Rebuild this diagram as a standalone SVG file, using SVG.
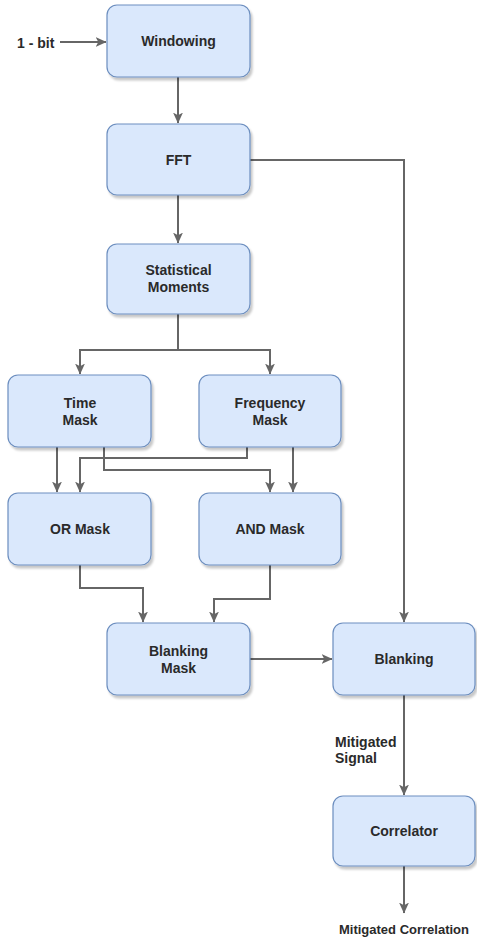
<svg xmlns="http://www.w3.org/2000/svg" width="477" height="937" viewBox="0 0 477 937">
<style>
.box{fill:#dae8fc;stroke:#6c8ebf;stroke-width:1.2;filter:url(#sh)}
.t{font-family:"Liberation Sans",Arial,sans-serif;font-size:14px;font-weight:bold;fill:#2a2a2a;text-anchor:middle}
.tl{font-family:"Liberation Sans",Arial,sans-serif;font-size:14px;font-weight:bold;fill:#2a2a2a}
.c{fill:none;stroke:#666;stroke-width:2;marker-end:url(#ar)}
</style>
<defs>
<filter id="sh" x="-10%" y="-10%" width="130%" height="140%">
<feDropShadow dx="2" dy="3" stdDeviation="1.2" flood-color="#000" flood-opacity="0.22"/>
</filter>
<marker id="ar" viewBox="0 0 10 9" refX="9.5" refY="4.5" markerWidth="11" markerHeight="10" markerUnits="userSpaceOnUse" orient="auto">
<path d="M0,0 L10,4.5 L0,9 L2.5,4.5 Z" fill="#666"/>
</marker>
</defs>
<g id="connectors">
<path class="c" d="M60,42 H106"/>
<path class="c" d="M178,77 V123"/>
<path class="c" d="M178,195 V243"/>
<path class="c" d="M178,314 V350 H80 V374"/>
<path class="c" d="M178,350 H270 V374"/>
<path class="c" d="M57,447 V492"/>
<path class="c" d="M104,447 V470 H270 V492"/>
<path class="c" d="M247,447 V458 H80 V492"/>
<path class="c" d="M293,447 V492"/>
<path class="c" d="M80,565 V588 H143 V622"/>
<path class="c" d="M270,565 V599 H214 V622"/>
<path class="c" d="M250,659 H332"/>
<path class="c" d="M250,160 H404 V622"/>
<path class="c" d="M404,695 V795"/>
<path class="c" d="M404,866 V913"/>
</g>
<g id="in-label"><text class="tl" x="17" y="48">1 - bit</text></g>
<g id="windowing"><rect class="box" x="107" y="5" width="143" height="72" rx="10"/><text class="t" x="178.5" y="46">Windowing</text></g>
<g id="fft"><rect class="box" x="107" y="124" width="143" height="71" rx="10"/><text class="t" x="178.5" y="165">FFT</text></g>
<g id="stat"><rect class="box" x="107" y="244" width="143" height="70" rx="10"/><text class="t" x="178.5" y="275">Statistical</text><text class="t" x="178.5" y="292">Moments</text></g>
<g id="time"><rect class="box" x="8" y="375" width="143" height="72" rx="10"/><text class="t" x="80" y="408">Time</text><text class="t" x="80" y="425">Mask</text></g>
<g id="freq"><rect class="box" x="199" y="375" width="142" height="72" rx="10"/><text class="t" x="270" y="408">Frequency</text><text class="t" x="270" y="425">Mask</text></g>
<g id="or"><rect class="box" x="8" y="493" width="143" height="72" rx="10"/><text class="t" x="80" y="534">OR Mask</text></g>
<g id="and"><rect class="box" x="199" y="493" width="142" height="72" rx="10"/><text class="t" x="270" y="534">AND Mask</text></g>
<g id="blankmask"><rect class="box" x="107" y="623" width="143" height="72" rx="10"/><text class="t" x="178.5" y="656">Blanking</text><text class="t" x="178.5" y="673">Mask</text></g>
<g id="blanking"><rect class="box" x="333" y="623" width="142" height="72" rx="10"/><text class="t" x="404" y="664">Blanking</text></g>
<g id="sig-label"><text class="tl" x="335" y="747">Mitigated</text><text class="tl" x="335" y="763">Signal</text></g>
<g id="correlator"><rect class="box" x="333" y="796" width="142" height="70" rx="10"/><text class="t" x="404" y="836">Correlator</text></g>
<g id="out-label"><text class="t" x="404" y="934" style="font-size:13px">Mitigated Correlation</text></g>
</svg>
